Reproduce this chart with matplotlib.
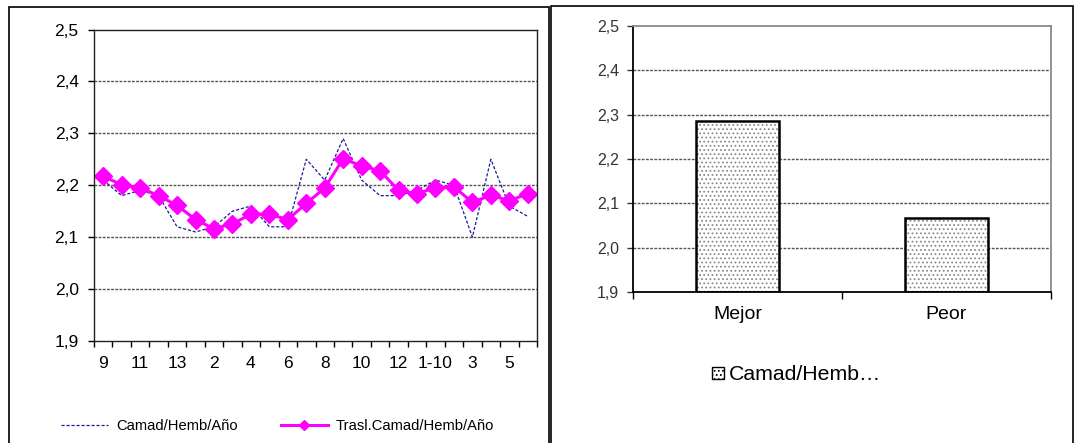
import matplotlib
matplotlib.use('Agg')
import matplotlib.pyplot as plt
from matplotlib.patches import Rectangle, Patch
from matplotlib.lines import Line2D
import numpy as np

# --- data -------------------------------------------------------------------
MONTHS = ["9", "10", "11", "12", "13", "1", "2", "3", "4", "5", "6", "7",
          "8", "9", "10", "11", "12", "13", "1-10", "2", "3", "4", "5", "6"]
CAMAD = [2.21, 2.18, 2.19, 2.18, 2.12, 2.11, 2.12, 2.15, 2.16, 2.12, 2.12, 2.25,
         2.21, 2.29, 2.21, 2.18, 2.18, 2.19, 2.21, 2.20, 2.10, 2.25, 2.16, 2.14]
TRASL = [2.217, 2.201, 2.195, 2.180, 2.161, 2.134, 2.116, 2.126, 2.144, 2.144,
         2.134, 2.165, 2.195, 2.251, 2.237, 2.228, 2.190, 2.184, 2.195, 2.197,
         2.167, 2.181, 2.170, 2.184]
BAR_CATS = ["Mejor", "Peor"]
BAR_VALS = [2.286, 2.068]
Y_TICKS = [1.9, 2.0, 2.1, 2.2, 2.3, 2.4, 2.5]
Y_LABELS = ["1,9", "2,0", "2,1", "2,2", "2,3", "2,4", "2,5"]

plt.rcParams.update({
    "font.family": ["Liberation Sans", "DejaVu Sans"],
    "hatch.linewidth": 0.8,
})

W, H = 1079, 443
fig = plt.figure(figsize=(W / 100, H / 100), dpi=100)


def box(x0, y0, x1, y1):
    # pixel box (top-left origin) -> figure fraction rect
    return [x0 / W, 1 - y1 / H, (x1 - x0) / W, (y1 - y0) / H]


# panel frames
fig.add_artist(Rectangle((8.5 / W, -0.05), (548.5 - 8.5) / W, 1.05 - 7 / H,
                         transform=fig.transFigure, fill=False, lw=1.2, ec="black"))
fig.add_artist(Rectangle((550.5 / W, -0.05), (1072.5 - 550.5) / W, 1.05 - 6 / H,
                         transform=fig.transFigure, fill=False, lw=1.2, ec="black"))

grid_kw = dict(color="#555555", lw=1.0, linestyle=(0, (2, 1)))

# ─── left: line chart ───────────────────────────────────────────────────────
ax = fig.add_axes(box(94, 29.5, 537, 341))
x = np.arange(len(MONTHS))
ax.plot(x, CAMAD, color="#1a1a9a", lw=0.9, linestyle=(0, (2.5, 1.5)),
        label="Camad/Hemb/Año")
ax.plot(x, TRASL, color="#ff00ff", lw=2.2, marker="D", markersize=9.5,
        label="Trasl.Camad/Hemb/Año")
for yv in Y_TICKS[1:-1]:
    ax.axhline(yv, zorder=0, **grid_kw)

ax.set_xlim(-0.5, len(MONTHS) - 0.5)
ax.set_ylim(1.9, 2.5)
ax.set_yticks(Y_TICKS, Y_LABELS)
ax.set_xticks(np.arange(-0.5, len(MONTHS), 1), [""] * (len(MONTHS) + 1))
ax.set_xticks(x[::2], MONTHS[::2], minor=True)
ax.tick_params(axis="x", which="major", direction="out", length=4, width=1)
ax.tick_params(axis="x", which="minor", length=0, pad=11, labelsize=12.5)
ax.tick_params(axis="y", direction="out", length=4, width=1, pad=7, labelsize=12.5)
for s in ax.spines.values():
    s.set_color("#222222")
    s.set_linewidth(1.0)

fig.legend(handles=[
    Line2D([], [], color="#1a1a9a", lw=0.9, linestyle=(0, (2.5, 1.5))),
    Line2D([], [], color="#ff00ff", lw=2.2, marker="D", markersize=5)],
    labels=["Camad/Hemb/Año", "Trasl.Camad/Hemb/Año"],
    loc="center left", bbox_to_anchor=(61 / W, 1 - 426 / H), ncol=2,
    frameon=False, fontsize=10.6, handlelength=3.2, handletextpad=0.55,
    columnspacing=2.9, borderpad=0, borderaxespad=0)

# ─── right: bar chart ───────────────────────────────────────────────────────
bx = fig.add_axes(box(633, 26, 1051, 292))
xb = np.arange(len(BAR_CATS))
bottoms = [1.9] * len(BAR_VALS)
heights = [v - 1.9 for v in BAR_VALS]
bx.bar(xb, heights, bottom=bottoms, width=0.4, color="white",
       edgecolor="#8a8a8a", hatch="....", lw=0, zorder=2)
bx.bar(xb, heights, bottom=bottoms, width=0.4, fill=False,
       edgecolor="black", lw=1.8, zorder=3)
for yv in Y_TICKS[1:-1]:
    bx.axhline(yv, zorder=1, **grid_kw)

bx.set_xlim(-0.5, len(BAR_CATS) - 0.5)
bx.set_ylim(1.9, 2.5)
bx.set_yticks(Y_TICKS, Y_LABELS)
bx.set_xticks([-0.5, 0.5, 1.5], ["", "", ""])
bx.set_xticks(xb, BAR_CATS, minor=True)
bx.tick_params(axis="x", which="major", direction="out", length=5, width=1)
bx.tick_params(axis="x", which="minor", length=0, pad=10, labelsize=14)
bx.tick_params(axis="y", direction="out", length=4, width=1, pad=6, labelsize=11.5,
               colors="#333333")
bx.spines["left"].set_color("black")
bx.spines["bottom"].set_color("black")
bx.spines["top"].set_color("#8a8a8a")
bx.spines["right"].set_color("#8a8a8a")
for s in bx.spines.values():
    s.set_linewidth(1.3)

fig.legend(handles=[Patch(facecolor="white", edgecolor="black", hatch="....", lw=1)],
           labels=["Camad/Hemb…"], loc="center left",
           bbox_to_anchor=(712 / W, 1 - 375 / H), frameon=False, fontsize=15.3,
           handlelength=0.55, handleheight=0.55, handletextpad=0.25,
           borderpad=0, borderaxespad=0)

fig.savefig("out.png", dpi=100)
